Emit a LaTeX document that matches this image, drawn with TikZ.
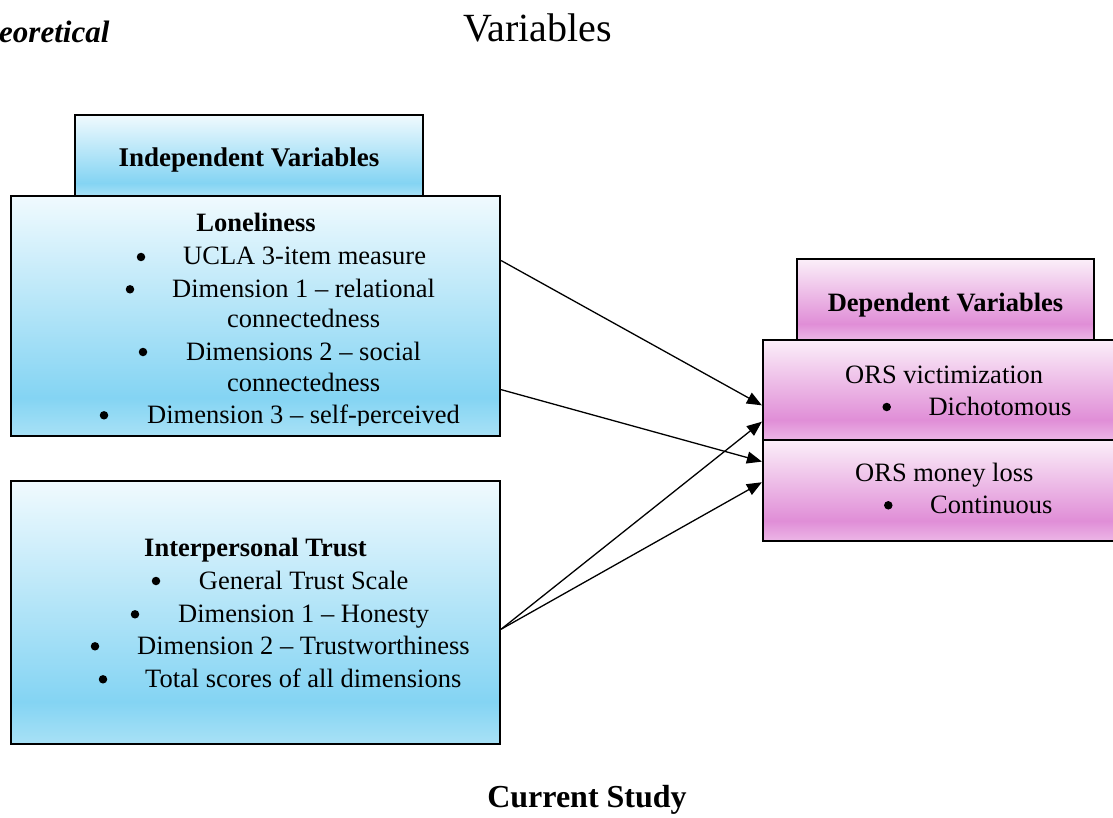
\documentclass[tikz,border=0pt]{standalone}
\usepackage{fontspec}
\setmainfont{Liberation Serif}
\usetikzlibrary{calc}
\usetikzlibrary{arrows.meta}
\definecolor{bluetop}{HTML}{F0FAFE}
\definecolor{bluemid}{HTML}{84D4F3}
\definecolor{bluebot}{HTML}{A8E1F6}
\definecolor{pinktop}{HTML}{FBEFF9}
\definecolor{pinkmid}{HTML}{E08ED7}
\definecolor{pinkbot}{HTML}{ECB6E6}
\pgfdeclareverticalshading{bluefade}{100bp}{color(0bp)=(bluebot); color(25bp)=(bluebot); color(33bp)=(bluemid); color(75bp)=(bluetop); color(100bp)=(bluetop)}
\pgfdeclareverticalshading{pinkfade}{100bp}{color(0bp)=(pinkbot); color(25bp)=(pinkbot); color(35bp)=(pinkmid); color(75bp)=(pinktop); color(100bp)=(pinktop)}
\tikzset{
	% Two box styles: blue for independent, pink for dependent
	blue box/.style={rectangle,draw,line width=2.2pt,shade,shading=bluefade,inner sep=0},
	pink box/.style={rectangle,draw,line width=2.2pt,shade,shading=pinkfade,inner sep=0},
	% text set on its baseline
	body text/.style={font=\fontsize{26.5}{32}\selectfont,inner sep=0,anchor=base west},
	bold text/.style={font=\fontsize{26.5}{32}\selectfont\bfseries,inner sep=0,anchor=base},
	dot/.style={circle,fill=black,inner sep=0,minimum size=8.5pt},
	link/.style={-{Triangle[length=15pt,width=12pt]},line width=1.3pt}
}
\begin{document}
\begin{tikzpicture}[x=1pt,y=-1pt]
			% macro for a bulleted line: name, bullet x, text x, baseline, text
			\newcommand{\bulletline}[5]{\node[dot](#1-dot)at(#2,#4-8){};\node[body text](#1)at(#3,#4){#5};}
			\useasboundingbox (0,0) rectangle (1113,818);
			
			% titles
			\node[inner sep=0,anchor=base west,font=\fontsize{31}{36}\selectfont\bfseries\itshape](theo)at(-1,43){eoretical};
			\node[inner sep=0,anchor=base,font=\fontsize{40}{46}\selectfont](vars)at(537.5,42){Variables};
			\node[inner sep=0,anchor=base,font=\fontsize{32}{38}\selectfont\bfseries](study)at(587,807){Current Study};
			
			% independent side
			\node(indep)[blue box,minimum width=348pt,minimum height=81pt]at(249,155.5){};
			\node(lonely)[blue box,minimum width=489pt,minimum height=240pt]at(255.5,316){};
			\node(trust)[blue box,minimum width=489pt,minimum height=263pt]at(255.5,612.5){};
			\node[bold text,font=\fontsize{27}{32}\selectfont\bfseries](indep-t)at(249,167){Independent Variables};
			
			\node[bold text](lonely-t)at(256,231.7){Loneliness};
			\bulletline{l-1}{141}{183}{265}{UCLA 3-item measure}
			\bulletline{l-2}{130}{172}{297.3}{Dimension 1 -- relational}
			\node[body text](l-2b)at(227,327.3){connectedness};
			\bulletline{l-3}{143}{186}{360}{Dimensions 2 -- social}
			\node[body text](l-3b)at(227,391.7){connectedness};
			\begin{scope}
				\clip (11,196) rectangle (500,425);
				\bulletline{l-4}{104}{147}{423.3}{Dimension 3 -- self-perceived}
			\end{scope}
			
			\node[bold text](trust-t)at(255.5,556.7){Interpersonal Trust};
			\bulletline{t-1}{156}{198.7}{589}{General Trust Scale}
			\bulletline{t-2}{135}{178}{622.3}{Dimension 1 -- Honesty}
			\bulletline{t-3}{95}{137}{654.3}{Dimension 2 -- Trustworthiness}
			\bulletline{t-4}{103}{145}{687.3}{Total scores of all dimensions}
			
			% dependent side
			\node(dep)[pink box,minimum width=297pt,minimum height=81pt]at(945.5,299.5){};
			\node(vict)[pink box,minimum width=355pt,minimum height=100pt]at(940.5,390){};
			\node(loss)[pink box,minimum width=355pt,minimum height=101pt]at(940.5,490.5){};
			\node[bold text](dep-t)at(945.5,311.7){Dependent Variables};
			
			\node[body text](vict-t)at(845,383.3){ORS victimization};
			\bulletline{v-1}{886.7}{928.3}{415}{Dichotomous}
			\node[body text](loss-t)at(855,481.7){ORS money loss};
			\bulletline{m-1}{888.3}{930}{513.3}{Continuous}
			
			% paths
			\draw[link]($(lonely.north east)!0.271!(lonely.south east)$) -- ($(vict.north west)!0.65!(vict.south west)$);
			\draw[link]($(lonely.north east)!0.804!(lonely.south east)$) -- ($(loss.north west)!0.22!(loss.south west)$);
			\draw[link]($(trust.north east)!0.563!(trust.south east)$) -- ($(vict.north west)!0.81!(vict.south west)$);
			\draw[link]($(trust.north east)!0.563!(trust.south east)$) -- ($(loss.north west)!0.42!(loss.south west)$);
\end{tikzpicture}
\end{document}
